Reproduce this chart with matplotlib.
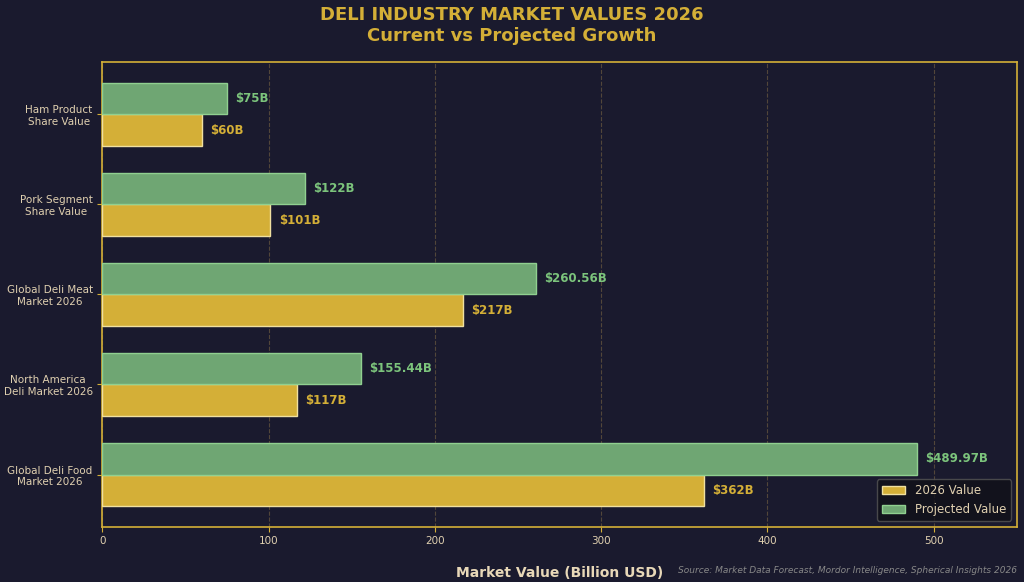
import numpy as np
import matplotlib.pyplot as plt

categories = ["Ham Product\nShare Value", "Pork Segment\nShare Value", "Global Deli Meat\nMarket 2026",
              "North America\nDeli Market 2026", "Global Deli Food\nMarket 2026"]
current = [60, 101, 217, 117, 362]
projected = [75, 122, 260.56, 155.44, 489.97]
cur_labels = ["$60B", "$101B", "$217B", "$117B", "$362B"]
proj_labels = ["$75B", "$122B", "$260.56B", "$155.44B", "$489.97B"]

bg = "#1a1a2e"
gold = "#d4af37"
green = "#6fa673"

fig = plt.figure(figsize=(10.24, 5.82), dpi=100, facecolor=bg)
ax = fig.add_axes([0.1, 0.095, 0.893, 0.798], facecolor=bg)

y = np.arange(len(categories))
h = 0.35
ax.barh(y + h / 2, current, height=h, color=gold, edgecolor="#f0e0a0", linewidth=1, label="2026 Value", zorder=3)
ax.barh(y - h / 2, projected, height=h, color=green, edgecolor="#90d090", linewidth=1, label="Projected Value", zorder=3)

for i in range(len(categories)):
    ax.text(current[i] + 5, y[i] + h / 2, cur_labels[i], va="center", color=gold, fontsize=8.5, fontweight="bold")
    ax.text(projected[i] + 5, y[i] - h / 2, proj_labels[i], va="center", color="#7cc47c", fontsize=8.5, fontweight="bold")

ax.set_yticks(y)
ax.set_yticklabels(categories, fontsize=7.5, multialignment="center")
ax.tick_params(axis="y", colors=gold, labelcolor="#e0d0b0")
ax.set_ylim(4.58, -0.58)
ax.set_xlim(0, 550)
ax.set_xticks([0, 100, 200, 300, 400, 500])
ax.tick_params(axis="x", colors=gold, labelcolor="#e0d0b0", labelsize=7.5)
ax.grid(axis="x", linestyle="--", color="#6a5a40", alpha=0.7, zorder=0)
for s in ax.spines.values():
    s.set_color(gold)
    s.set_linewidth(1.2)

ax.set_xlabel("Market Value (Billion USD)", color="#e8d8b8", fontsize=10, fontweight="bold", labelpad=14)
fig.suptitle("DELI INDUSTRY MARKET VALUES 2026\nCurrent vs Projected Growth", color=gold,
             fontsize=13, fontweight="bold", y=0.99)

leg = ax.legend(loc="lower right", facecolor="#111118", edgecolor="#555555", fontsize=8.5, labelcolor="#e0d0b0")

fig.text(0.993, 0.015, "Source: Market Data Forecast, Mordor Intelligence, Spherical Insights 2026",
         ha="right", color="#888888", fontsize=6.5, style="italic")

fig.savefig("out.png", facecolor=bg)
